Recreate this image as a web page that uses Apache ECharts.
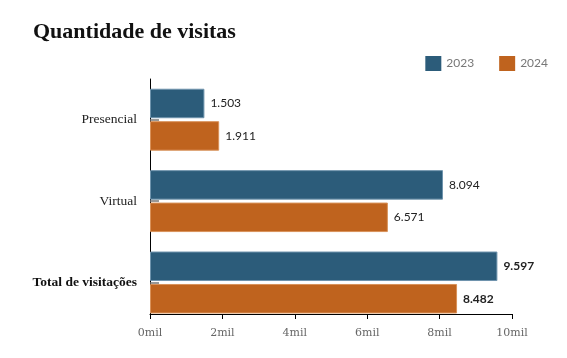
<!DOCTYPE html>
<html><head><meta charset="utf-8">
<script src="https://cdn.jsdelivr.net/npm/echarts@6/dist/echarts.min.js"></script>
<style>html,body{margin:0;padding:0;background:#fff}#c{width:567px;height:358px}</style>
</head><body><div id="c"></div>
<script>
const categories = ['Presencial', 'Virtual', 'Total de visitações'];
const values2023 = [1503, 8094, 9597];
const values2024 = [1911, 6571, 8482];
const seriesNames = ['2023', '2024'];
const xTicks = [0, 2000, 4000, 6000, 8000, 10000];

const fmt = v => v.toLocaleString('de-DE');
const chart = echarts.init(document.getElementById('c'), null, {renderer: 'canvas'});
const labelStyle = () => ({
  show: true, position: 'right', distance: 6,
  formatter: q => fmt(q.value),
  color: '#222', fontFamily: 'Lato', fontSize: 12
});
const xMin = xTicks[0], xMax = xTicks[xTicks.length - 1];
chart.setOption({
  animation: false,
  title: {
    text: 'Quantidade de visitas', left: 28, top: 16,
    textStyle: {fontFamily: 'Liberation Serif', fontWeight: 'bold', fontSize: 22, color: '#111'}
  },
  legend: {
    data: seriesNames, right: 14, top: 51, itemWidth: 16, itemHeight: 15, itemGap: 25,
    icon: 'rect',
    itemStyle: {borderWidth: 0},
    textStyle: {fontFamily: 'Lato', fontSize: 12, color: '#777'}
  },
  grid: [
    {left: 150, right: 55, top: 79, bottom: 34.8, containLabel: false},
    {left: 150, right: 55, top: 79, bottom: 44, containLabel: false}
  ],
  xAxis: [
    {gridIndex: 0, type: 'value', min: xMin, max: xMax, interval: 2000, show: false},
    {
      gridIndex: 1, type: 'value', min: xMin, max: xMax, interval: 2000,
      axisLine: {show: true, lineStyle: {color: '#000', width: 1}},
      axisTick: {show: true, length: 5, lineStyle: {color: '#000'}},
      splitLine: {show: false},
      axisLabel: {formatter: v => (v/1000) + 'mil', fontFamily: 'DejaVu Serif', fontSize: 11, color: '#666', margin: 14}
    }
  ],
  yAxis: [
    {
      gridIndex: 0, type: 'category', data: categories, inverse: true,
      axisLine: {show: false},
      axisTick: {show: true, inside: true, alignWithLabel: true, length: 9, lineStyle: {color: '#777', width: 1.5}},
      axisLabel: {
        margin: 13, fontFamily: 'Liberation Serif', fontSize: 13.5, color: '#222',
        formatter: (v) => v === 'Total de visitações' ? '{b|' + v + '}' : v,
        rich: {b: {fontFamily: 'Liberation Serif', fontSize: 13.5, fontWeight: 'bold', color: '#111'}}
      }
    },
    {
      gridIndex: 1, type: 'value', min: 0, max: 1,
      axisLine: {show: true, lineStyle: {color: '#000', width: 1}},
      axisTick: {show: false}, axisLabel: {show: false}, splitLine: {show: false}
    }
  ],
  series: [
    {
      name: seriesNames[0], type: 'bar', xAxisIndex: 0, yAxisIndex: 0,
      data: values2023.map((v, i) => ({value: v, label: {fontWeight: i === 2 ? 'bold' : 'normal'}})),
      barWidth: 29.5, barGap: '10%',
      itemStyle: {color: '#2c5c7a', borderColor: '#6f94ad', borderWidth: 1},
      label: labelStyle()
    },
    {
      name: seriesNames[1], type: 'bar', xAxisIndex: 0, yAxisIndex: 0,
      data: values2024.map((v, i) => ({value: v, label: {fontWeight: i === 2 ? 'bold' : 'normal'}})),
      barWidth: 29.5,
      itemStyle: {color: '#bf631e', borderColor: '#d9925a', borderWidth: 1},
      label: labelStyle()
    }
  ]
});
</script></body></html>
